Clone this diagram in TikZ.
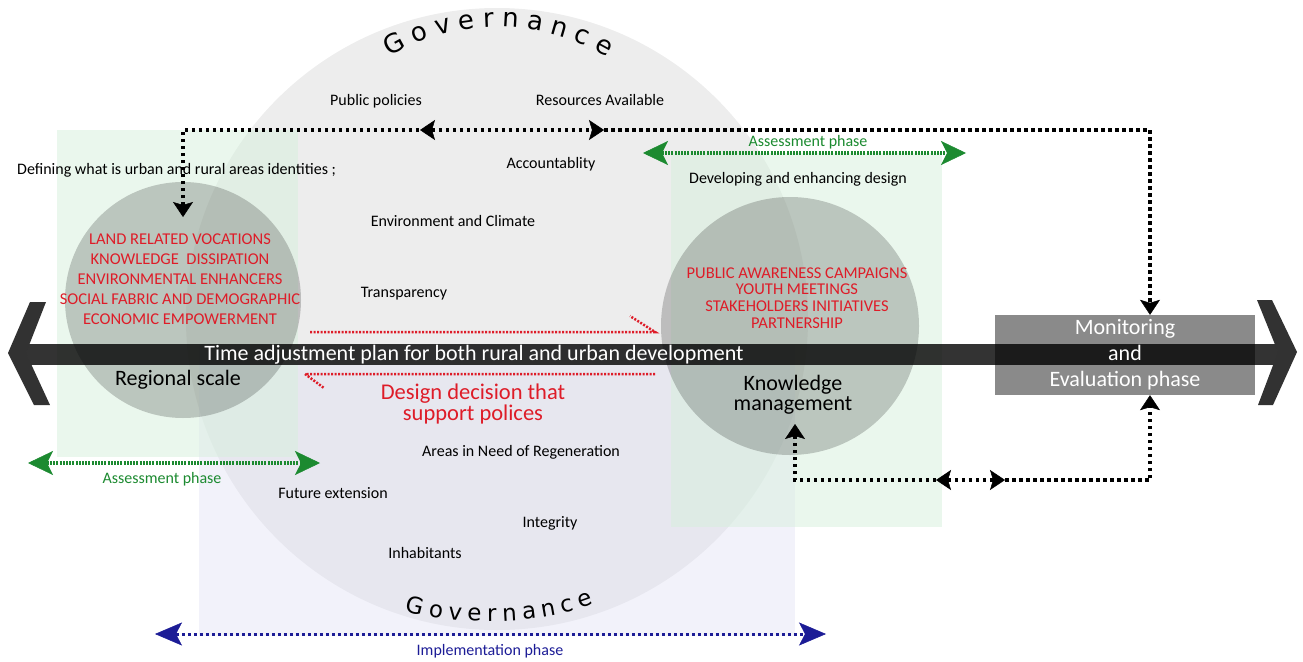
\documentclass[tikz,border=0pt]{standalone}
\usepackage{fontspec}
\setmainfont{Carlito}
\newfontfamily\govfam{DejaVu Sans}
\usetikzlibrary{arrows.meta,decorations.text,positioning}

\definecolor{redtxt}{RGB}{222,28,40}
\definecolor{greenph}{RGB}{28,138,48}
\definecolor{bluephase}{RGB}{28,28,150}
\definecolor{circgray}{RGB}{237,237,237}
\definecolor{lavender}{RGB}{222,222,242}
\definecolor{greenbox}{RGB}{214,240,220}
\definecolor{chevgray}{RGB}{50,50,50}
\definecolor{mongray}{RGB}{138,138,138}

\tikzset{
  blacktip/.tip={Stealth[length=15pt,width=20pt,inset=3pt,line width=0.5pt]},
  greentip/.tip={Stealth[length=25pt,width=24pt,inset=6pt,line width=0.5pt]},
  bluetip/.tip={Stealth[length=27pt,width=23pt,inset=6pt,line width=0.5pt]},
  dotline/.style={line width=3.5pt, dash pattern=on 3.5pt off 3.5pt, black},
  greendot/.style={line width=3.5pt, dash pattern=on 2pt off 1.2pt, greenph},
  bluedot/.style={line width=3pt, dash pattern=on 3pt off 3pt, bluephase},
  reddot/.style={line width=2.5pt, dash pattern=on 2pt off 1.5pt, redtxt},
  lbl/.style={font=\fontsize{16}{19}\selectfont, inner sep=0pt},
  redlist/.style={font=\fontsize{16.5}{20}\selectfont, text=redtxt, align=center, inner sep=0pt},
  bigtxt/.style={font=\fontsize{22}{20}\selectfont, align=center, inner sep=0pt},
  phaselbl/.style={font=\fontsize{16}{19}\selectfont, inner sep=0pt},
  scalecirc/.style={circle, fill=black, fill opacity=0.2, inner sep=0pt},
  monbox/.style={rectangle, fill=mongray, minimum width=260pt, minimum height=80pt, inner sep=0pt},
}

\begin{document}
\begin{tikzpicture}[x=1pt,y=-1pt]
\useasboundingbox (0,0) rectangle (1303,661);
% Background areas
  \fill[circgray] (497,319) circle (311);
  \fill[lavender, fill opacity=0.4] (199,345) rectangle (795,636);
  \fill[greenbox, fill opacity=0.5] (57,130) rectangle (298,457);
  \fill[greenbox, fill opacity=0.5] (671,153) rectangle (942,527);
  \node[scalecirc, minimum size=236pt] (reg) at (183,300) {};
  \node[scalecirc, minimum size=258pt] (know) at (790,326) {};
% Governance
  \path[decorate, decoration={text along path, text align={fit to path},
    text={|\govfam\fontsize{26}{26}\selectfont|Governance}}]
    (390,57) .. controls (455,17) and (540,17) .. (607,57);
  \path[decorate, decoration={text along path, text align={fit to path},
    text={|\govfam\fontsize{23}{23}\selectfont|Governance}}]
    (405,611) .. controls (455,626) and (540,626) .. (594,604);
% Time bar
  \node[monbox] (mon) at (1125,355) {};
  \fill[black, fill opacity=0.8] (25,344) rectangle (1280,365);
  \fill[chevgray] (30,302) -- (46,302) -- (26,353) -- (50,405) -- (34,405) -- (8,353) -- cycle;
  \fill[chevgray] (1257,300) -- (1272,300) -- (1297,352) -- (1273,405) -- (1258,405) -- (1278,352) -- cycle;
  \node[bigtxt, text=white] (plan) at (474,355) {Time adjustment plan for both rural and urban development};
  \node[bigtxt, text=white, font=\fontsize{22}{26}\selectfont] (montxt) at (mon) {Monitoring\\and\\Evaluation phase};
% Labels
  \node[lbl] (pub) at (376,101) {Public policies};
  \node[lbl] (res) at (600,100) {Resources Available};
  \node[lbl, anchor=west] (def) at (17,170) {Defining what is urban and rural areas identities ;};
  \node[lbl] (acc) at (551,164) {Accountablity};
  \node[lbl] (env) at (453,221) {Environment and Climate};
  \node[lbl] (tra) at (404,294) {Transparency};
  \node[lbl] (dev) at (798,179) {Developing and enhancing design};
  \node[lbl] (are) at (521,452) {Areas in Need of Regeneration};
  \node[lbl] (fut) at (333,493) {Future extension};
  \node[lbl] (int) at (550,523) {Integrity};
  \node[lbl] (inh) at (425,553) {Inhabitants};
  \node[redlist] (vocs) at (180,279) {LAND RELATED VOCATIONS\\KNOWLEDGE\ \ DISSIPATION\\ENVIRONMENTAL ENHANCERS\\SOCIAL FABRIC AND DEMOGRAPHIC\\ECONOMIC EMPOWERMENT};
  \node[redlist, font=\fontsize{16.5}{16.7}\selectfont] (camp) at (797,298) {PUBLIC AWARENESS CAMPAIGNS\\YOUTH MEETINGS\\STAKEHOLDERS INITIATIVES\\PARTNERSHIP};
  \node[bigtxt] (regl) at (178,380) {Regional scale};
  \node[bigtxt] (kml) at (793,395) {Knowledge\\management};
  \node[bigtxt, text=redtxt, font=\fontsize{22.5}{19}\selectfont] (dd) at (473,404) {Design decision that\\support polices};
% Red dotted arrows
  \coordinate (ra1) at (310,332);
  \coordinate (ra2) at (655,332);
  \coordinate (ra3) at (630,316);
  \coordinate (rb1) at (655,374);
  \coordinate (rb2) at (305,374);
  \coordinate (rb3) at (324,388);
  \draw[reddot] (ra1) -- (ra2) -- (ra3);
  \draw[reddot] (rb1) -- (rb2) -- (rb3);
% Black loops
  \coordinate (regtip) at (183,217);
  \coordinate (tl) at (183,130);
  \coordinate (tr) at (1150,130);
  \coordinate (pl) at (420,130);
  \coordinate (pr) at (604,130);
  \draw[dotline, {blacktip}-] (regtip) -- (tl) -- (pl);
  \draw[dotline, {blacktip}-{blacktip}] (pl) -- (pr);
  \draw[dotline, -{blacktip}] (pr) -- (tr) -- (mon.north -| tr);
  \coordinate (kntip) at (795,424);
  \coordinate (bl) at (795,480);
  \coordinate (br) at (1150,480);
  \coordinate (ql) at (936,480);
  \coordinate (qr) at (1005,480);
  \draw[dotline, {blacktip}-] (kntip) -- (bl) -- (ql);
  \draw[dotline, {blacktip}-{blacktip}] (ql) -- (qr);
  \draw[dotline, -{blacktip}] (qr) -- (br) -- (mon.south -| br);
% Phases
  \coordinate (ga1) at (28,463);
  \coordinate (ga2) at (320,463);
  \draw[greendot, {greentip}-{greentip}] (ga1) -- (ga2);
  \node[phaselbl, text=greenph] (asl) at (162,479) {Assessment phase};
  \coordinate (gb1) at (643,153);
  \coordinate (gb2) at (966,153);
  \draw[greendot, {greentip}-{greentip}] (gb1) -- (gb2);
  \node[phaselbl, text=greenph] (asr) at (808,142) {Assessment phase};
  \coordinate (ba1) at (155,634);
  \coordinate (ba2) at (826,634);
  \draw[bluedot, {bluetip}-{bluetip}] (ba1) -- (ba2);
  \node[phaselbl, text=bluephase] (imp) at (490,651) {Implementation phase};
\end{tikzpicture}
\end{document}
